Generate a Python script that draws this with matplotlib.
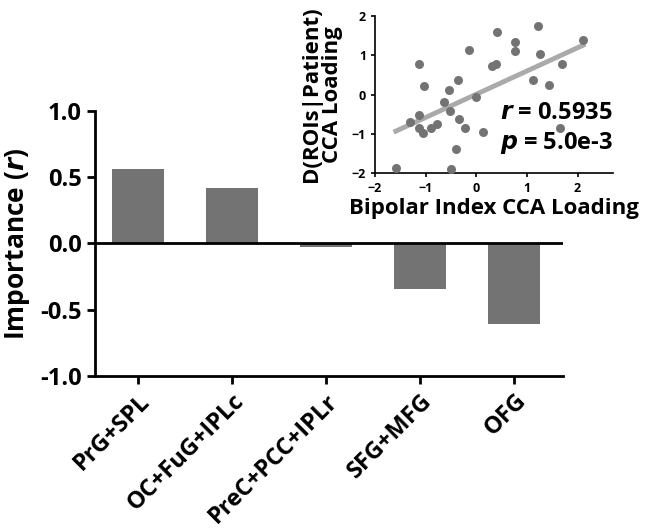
import matplotlib.pyplot as plt
import numpy as np

plt.rcParams['font.family'] = ['Open Sans', 'DejaVu Sans']
plt.rcParams['font.weight'] = 'bold'

regions = ['PrG+SPL', 'OC+FuG+IPLc', 'PreC+PCC+IPLr', 'SFG+MFG', 'OFG']
importance = [0.56, 0.42, -0.03, -0.34, -0.61]

bipolar_loading = [-1.59, -1.31, -1.14, -1.14, -1.14, -1.06, -1.03, -0.89,
                   -0.78, -0.63, -0.54, -0.52, -0.50, -0.41, -0.36, -0.34,
                   -0.22, -0.15, -0.01, 0.13, 0.32, 0.39, 0.40, 0.76,
                   0.77, 1.12, 1.22, 1.26, 1.44, 1.66, 1.69, 2.11]
roi_loading = [-1.86, -0.69, 0.77, -0.53, -0.86, -0.99, 0.21, -0.84,
               -0.75, -0.19, 0.11, -0.42, -1.90, -1.39, 0.36, -0.63,
               -0.84, 1.13, -0.06, -0.95, 0.72, 0.77, 1.59, 1.34,
               1.11, 0.38, 1.75, 1.03, 0.24, -0.84, 0.77, 1.40]

bar_color = '#737373'

fig = plt.figure(figsize=(6.5, 5.31), dpi=100)

# main bar chart
ax = fig.add_axes([0.146, 0.292, 0.72, 0.499])
x = np.arange(len(regions))
ax.bar(x, importance, width=0.55, color=bar_color)
ax.axhline(0, color='black', lw=2)
ax.set_xlim(-0.46, 4.52)
ax.set_ylim(-1, 1)
ax.set_yticks([-1.0, -0.5, 0.0, 0.5, 1.0])
ax.set_yticklabels(['-1.0', '-0.5', '0.0', '0.5', '1.0'], fontsize=17, fontweight='bold')
ax.set_xticks(x)
ax.set_xticklabels(regions, rotation=45, ha='right', rotation_mode='anchor',
                   fontsize=17, fontweight='bold')
ax.set_ylabel('Importance ($\\mathbf{\\it{r}}$)', fontsize=19, fontweight='bold', labelpad=6)
ax.spines['top'].set_visible(False)
ax.spines['right'].set_visible(False)
for s in ['left', 'bottom']:
    ax.spines[s].set_linewidth(2)
ax.tick_params(axis='both', width=2, length=6)

# inset scatter
ins = fig.add_axes([0.577, 0.674, 0.366, 0.296])
ins.scatter(bipolar_loading, roi_loading, s=42, color=bar_color, zorder=3, lw=0)
coef = np.polyfit(bipolar_loading, roi_loading, 1)
xs = np.array([min(bipolar_loading), max(bipolar_loading)])
ins.plot(xs, np.polyval(coef, xs), color='#aaaaaa', lw=3.5, zorder=2)
ins.set_xlim(-2, 2.7)
ins.set_ylim(-2, 2)
ins.set_xticks([-2, -1, 0, 1, 2])
ins.set_yticks([-2, -1, 0, 1, 2])
ins.tick_params(labelsize=9, width=1.2, length=3)
for lab in ins.get_xticklabels() + ins.get_yticklabels():
    lab.set_fontweight('bold')
ins.spines['top'].set_visible(False)
ins.spines['right'].set_visible(False)
for s in ['left', 'bottom']:
    ins.spines[s].set_linewidth(1.2)
ins.set_xlabel('Bipolar Index CCA Loading', fontsize=16, fontweight='bold', labelpad=2)
ins.set_ylabel('D(ROIs|Patient)\nCCA Loading', fontsize=16, fontweight='bold',
               linespacing=1.05, labelpad=6)
ins.text(1.0, 0.38, '$\\mathbf{\\it{r}}$ = 0.5935', transform=ins.transAxes,
         fontsize=17, fontweight='bold', ha='right', va='center')
ins.text(1.0, 0.19, '$\\mathbf{\\it{p}}$ = 5.0e-3', transform=ins.transAxes,
         fontsize=17, fontweight='bold', ha='right', va='center')

fig.savefig('out.png', dpi=100)
